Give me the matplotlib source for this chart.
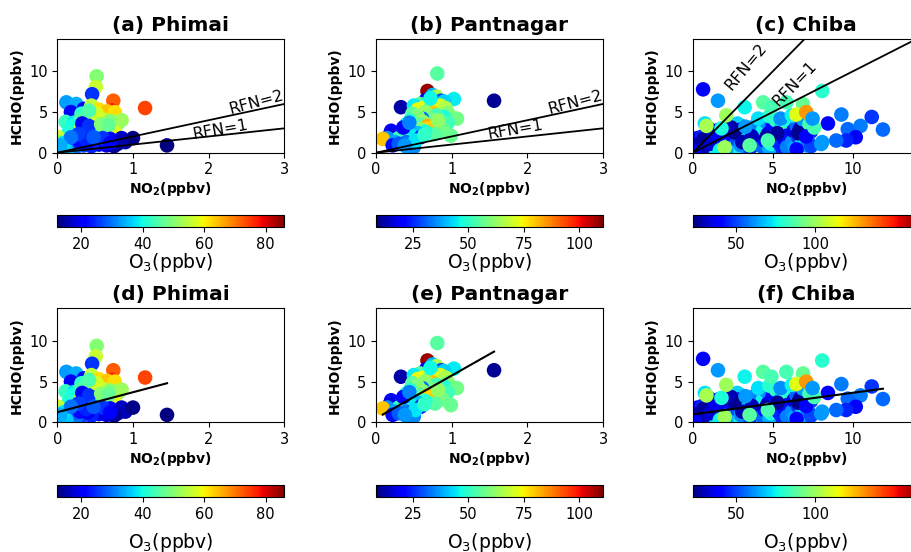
import numpy as np
import matplotlib.pyplot as plt
from matplotlib.colors import Normalize
from matplotlib.cm import ScalarMappable

# Phimai
phimai_no2 = [0.52, 0.51, 0.46, 0.74, 1.16, 0.12, 0.25, 0.18, 0.35, 0.32, 0.59, 0.72, 0.63, 0.79, 0.11, 0.22,
              0.45, 0.55, 0.66, 0.76, 0.40, 0.50, 0.60, 0.70, 0.80, 0.30, 0.20, 0.35, 0.45, 0.55, 0.65, 0.75,
              0.28, 0.38, 0.48, 0.15, 0.25, 0.01, 0.05, 0.20, 0.30, 0.40, 0.33, 0.42, 0.85, 0.52, 0.42, 0.58,
              0.68, 0.15, 0.50, 0.60, 0.70, 0.80, 0.85, 0.90, 1.00, 1.45, 0.55, 0.65, 0.75, 0.45, 0.35, 0.25,
              0.15, 0.05, 0.02, 0.10, 0.20, 0.30, 0.40, 0.12, 0.08, 0.60, 0.70, 0.38, 0.48, 0.28, 0.18, 0.04]
phimai_hcho = [9.4, 8.1, 7.2, 6.4, 5.5, 6.2, 6.0, 5.0, 5.4, 4.8, 5.0, 5.2, 4.8, 4.2, 3.8, 3.7,
               5.8, 5.3, 5.1, 5.0, 4.5, 4.3, 4.1, 3.9, 3.6, 4.0, 3.3, 3.2, 3.0, 2.8, 2.9, 3.0,
               2.6, 2.4, 2.6, 2.5, 2.0, 1.9, 1.6, 1.5, 1.8, 2.0, 3.6, 3.3, 4.0, 4.8, 5.2, 3.5,
               3.4, 1.2, 1.5, 1.3, 1.7, 1.1, 1.8, 1.3, 1.8, 0.9, 1.0, 0.9, 0.8, 0.8, 0.9, 0.7,
               0.6, 0.5, 0.3, 1.0, 1.1, 1.3, 1.2, 0.3, 1.2, 1.8, 1.2, 1.6, 1.9, 2.3, 1.9, 0.9]
phimai_o3 = [50, 56, 25, 72, 74, 33, 34, 20, 22, 42, 60, 78, 58, 50, 43, 38,
             55, 62, 64, 62, 48, 52, 55, 50, 48, 45, 40, 50, 48, 52, 55, 58,
             57, 44, 46, 41, 53, 57, 55, 48, 36, 34, 20, 25, 52, 57, 45, 50,
             47, 40, 20, 18, 22, 15, 17, 16, 13, 12, 20, 19, 14, 24, 26, 30,
             32, 35, 33, 30, 28, 22, 20, 36, 38, 25, 21, 24, 28, 26, 30, 34]

# Pantnagar
pant_no2 = [0.81, 0.68, 1.56, 0.33, 0.75, 0.80, 1.03, 0.86, 0.66, 0.68, 0.58, 0.70, 0.90, 0.50, 0.55, 0.62,
            0.72, 0.85, 0.92, 0.95, 0.75, 0.65, 0.48, 0.90, 0.80, 0.70, 0.61, 0.55, 0.45, 1.07, 0.62, 0.46,
            0.40, 0.52, 0.60, 0.75, 0.85, 0.95, 0.68, 0.70, 0.88, 0.58, 0.76, 0.78, 0.65, 0.99, 0.55, 0.45,
            0.35, 0.20, 0.28, 0.18, 0.59, 0.38, 0.30, 0.15, 0.09, 0.25, 0.40, 0.22, 0.30, 0.42, 0.50, 0.36,
            0.44, 0.52, 0.64, 0.82, 0.72, 0.38]
pant_hcho = [9.75, 7.6, 6.4, 5.6, 7.1, 6.9, 6.6, 6.4, 6.5, 5.8, 6.0, 6.2, 6.3, 5.8, 5.3, 5.5,
             5.5, 5.8, 5.5, 4.9, 4.9, 5.0, 4.8, 4.4, 4.6, 4.2, 4.2, 4.5, 4.0, 4.2, 3.8, 3.5,
             3.5, 3.2, 3.4, 3.6, 3.3, 3.7, 3.3, 3.0, 2.8, 2.9, 2.7, 2.3, 2.6, 2.1, 2.4, 2.2,
             2.6, 2.7, 2.0, 2.2, 1.9, 1.6, 1.8, 1.8, 1.7, 1.3, 1.3, 0.9, 1.1, 0.6, 0.7, 3.1,
             3.7, 1.5, 2.2, 4.0, 6.7, 0.9]
pant_o3 = [55, 108, 10, 12, 40, 65, 45, 28, 18, 12, 55, 50, 42, 45, 75, 72,
           55, 70, 66, 60, 80, 62, 55, 48, 52, 58, 32, 60, 50, 58, 62, 42,
           47, 58, 54, 56, 50, 52, 82, 78, 58, 60, 80, 55, 48, 57, 40, 45,
           42, 20, 25, 17, 22, 48, 52, 36, 80, 38, 33, 22, 30, 38, 35, 20,
           34, 44, 50, 62, 46, 36]

# Chiba
chiba_no2 = [0.3, 0.5, 0.9, 1.1, 1.3, 1.6, 1.9, 2.1, 2.4, 2.7, 3.0, 3.3, 3.6, 3.9, 4.1, 4.4,
             4.7, 5.0, 5.2, 5.5, 5.8, 6.0, 6.3, 6.6, 6.9, 7.1, 7.4, 1.0, 2.0, 3.0, 4.0, 5.0,
             6.0, 7.0, 3.5, 5.6, 0.8, 4.5, 6.4, 2.8,
             0.2, 0.4, 0.5, 0.6, 0.8, 0.9, 1.0, 1.2, 1.3, 1.5, 1.6, 1.8, 1.9, 2.0, 2.2, 2.3,
             2.4, 2.5, 2.6, 2.8, 2.9, 3.0, 3.2, 3.4, 3.5, 3.6, 3.8, 3.9, 4.0, 4.2, 4.3, 4.4,
             4.5, 4.6, 4.7, 4.8, 4.9, 5.0, 5.1, 5.2, 5.3, 5.4, 5.5, 5.6, 5.7, 5.8, 5.9, 6.0,
             6.1, 6.2, 6.3, 6.4, 6.5, 6.6, 6.7, 6.8, 6.9, 7.0, 7.2, 7.3, 7.4, 0.3, 0.6, 0.7,
             1.1, 1.4, 2.6, 2.4, 3.1, 3.7, 4.6, 5.3, 6.6, 6.5, 7.1, 2.1, 1.7, 0.1, 2.2, 1.8,
             3.3, 4.1, 4.8, 5.5, 6.2, 2.0, 3.56, 4.7, 8.04, 0.76,
             0.65, 1.58, 8.1, 3.25, 4.4, 4.92, 6.9, 5.86, 2.1, 0.86, 6.48, 7.1, 8.46, 9.3,
             11.2, 11.9, 10.5, 9.7, 10.2, 9.6, 8.98, 8.1, 7.6, 7.5]
chiba_hcho = [1.8, 0.6, 2.2, 0.4, 2.6, 1.0, 1.9, 1.2, 0.5, 1.8, 2.4, 0.8, 1.6, 2.8, 1.0, 1.9,
              0.9, 2.4, 0.6, 1.7, 1.1, 0.9, 1.8, 1.2, 2.2, 0.9, 2.6, 3.0, 2.6, 3.3, 2.3, 1.6,
              3.0, 3.2, 0.4, 0.3, 0.2, 3.3, 3.9, 3.6,
              0.3, 0.8, 1.5, 2.0, 1.2, 0.5, 2.5, 1.8, 0.8, 1.4, 2.8, 2.2, 0.6, 1.5, 2.8, 1.0,
              3.1, 2.0, 0.7, 1.5, 2.8, 0.9, 2.3, 1.7, 3.0, 0.6, 2.5, 1.2, 3.5, 2.0, 0.8, 2.8,
              1.5, 3.8, 2.3, 0.5, 1.1, 3.2, 2.0, 4.0, 1.4, 2.6, 0.9, 3.5, 1.8, 2.9, 0.7, 2.2,
              3.7, 1.3, 2.7, 0.6, 3.3, 1.9, 2.9, 1.0, 4.1, 2.4, 1.5, 3.5, 0.8, 1.0, 0.4, 1.7,
              1.1, 2.3, 2.5, 3.0, 1.3, 2.0, 1.9, 2.4, 2.4, 0.4, 2.0, 0.3, 0.3, 0.1, 3.2, 3.0,
              3.2, 4.2, 4.5, 4.2, 4.6, 0.65, 0.9, 1.5, 1.07, 3.6,
              7.8, 6.4, 7.6, 5.6, 6.2, 5.6, 6.0, 6.2, 4.6, 3.3, 4.7, 5.0, 3.6, 4.7,
              4.4, 2.85, 3.3, 2.9, 1.9, 1.5, 1.5, 1.3, 3.1, 4.2]
chiba_o3 = [40, 55, 35, 62, 45, 50, 38, 44, 70, 36, 48, 40, 52, 44, 36, 58,
            32, 46, 60, 40, 52, 36, 44, 58, 40, 62, 48, 55, 60, 42, 62, 34,
            50, 44, 58, 46, 50, 52, 38, 70,
            35, 32, 40, 45, 60, 70, 38, 42, 75, 55, 40, 65, 72, 35, 30, 58,
            25, 40, 76, 50, 42, 60, 38, 70, 80, 45, 33, 66, 58, 28, 55, 75,
            42, 60, 35, 65, 78, 40, 55, 82, 30, 62, 45, 70, 38, 85, 58, 42,
            78, 60, 35, 65, 55, 48, 30, 70, 62, 45, 58, 85, 50, 28, 30, 26,
            33, 36, 25, 24, 28, 30, 27, 26, 25, 40, 38, 65, 75, 40, 30, 78,
            62, 72, 80, 60, 75, 100, 88, 85, 62, 72,
            38, 62, 80, 75, 88, 85, 90, 85, 100, 102, 112, 130, 38, 58,
            48, 55, 58, 55, 38, 45, 55, 62, 85, 62]

site_names = ["Phimai", "Pantnagar", "Chiba"]
o3_ranges = [(12.3, 86.1), (8.3, 110.8), (22.2, 166.5)]
o3_ticks = [[20, 40, 60, 80], [25, 50, 75, 100], [50, 100]]
x_limits = [3.0, 3.0, 14.2]
x_ticks = [[0, 1, 2, 3], [0, 1, 2, 3], [0, 5, 10]]
# linear fit (slope, intercept) of HCHO vs NO2
fit_slope = [2.46, 5.27, 0.265]
fit_intercept = [1.23, 0.47, 0.97]

no2_all = [phimai_no2, pant_no2, chiba_no2]
hcho_all = [phimai_hcho, pant_hcho, chiba_hcho]
o3_all = [phimai_o3, pant_o3, chiba_o3]

fig = plt.figure(figsize=(9.11, 5.52), dpi=100)
W, H = 911.0, 552.0


def box(x0, y0, w, h):
    return fig.add_axes([x0 / W, 1 - (y0 + h) / H, w / W, h / H])


lefts = [57.3, 376, 692.7]
ax_tops = [39, 308.5]
cb_tops = [215, 485]
cb_pads = [-0.5, 6.5]
letters = "abcdef"

for r in range(2):
    for i in range(3):
        ax = box(lefts[i], ax_tops[r], 227, 113.7)
        norm = Normalize(*o3_ranges[i])
        x = np.array(no2_all[i])
        y = np.array(hcho_all[i])
        ax.scatter(x, y, c=o3_all[i], cmap="jet", norm=norm, s=110, linewidths=0)
        ax.set_xlim(0, x_limits[i])
        ax.set_ylim(0, 14)
        ax.set_xticks(x_ticks[i])
        ax.set_yticks([0, 5, 10])
        ax.tick_params(labelsize=10.5)
        ax.set_title("(%s) %s" % (letters[r * 3 + i], site_names[i]), fontsize=14.5, fontweight="bold")
        ax.set_xlabel(r"NO$_\mathbf{2}$(ppbv)", fontsize=10, fontweight="bold", labelpad=2)
        ax.set_ylabel("HCHO(ppbv)", fontsize=10, fontweight="bold")

        if r == 0:
            xs = np.array([0, x_limits[i]])
            ax.plot(xs, xs * 1, color="black", lw=1.3)
            ax.plot(xs, xs * 2, color="black", lw=1.3)
            if i < 2:
                ax.text(2.63, 6.2, "RFN=2", fontsize=11.5, rotation=15, ha="center", va="center")
                ax.text(2.15 if i == 0 else 1.84, 2.8, "RFN=1", fontsize=11.5, rotation=10,
                        ha="center", va="center")
            else:
                ax.text(3.35, 10.6, "RFN=2", fontsize=11.5, rotation=50, ha="center", va="center")
                ax.text(6.4, 8.5, "RFN=1", fontsize=11.5, rotation=46, ha="center", va="center")
        else:
            xs = np.array([x.min(), x.max()])
            ax.plot(xs, fit_slope[i] * xs + fit_intercept[i], color="black", lw=1.5)

        cax = box(lefts[i], cb_tops[r], 227, 12)
        cb = fig.colorbar(ScalarMappable(norm=norm, cmap="jet"), cax=cax, orientation="horizontal")
        cb.set_ticks(o3_ticks[i])
        cb.ax.tick_params(labelsize=10.5)
        cb.set_label("O$_3$(ppbv)", fontsize=13.5, labelpad=cb_pads[r])

fig.savefig("out.png", dpi=100)
